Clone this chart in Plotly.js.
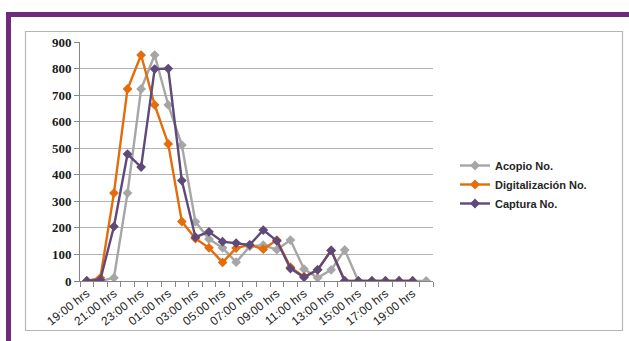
<!DOCTYPE html>
<html>
<head>
<meta charset="utf-8">
<script src="https://cdn.plot.ly/plotly-3.0.1.min.js"></script>
<style>
  html, body { margin: 0; padding: 0; background: #ffffff; }
  #chart { width: 629px; height: 341px; }
</style>
</head>
<body>
<div id="chart"></div>
<script>
// Hourly categories (19:00 hrs through 20:00 hrs of the next day)
const categories = [
  "19:00 hrs","20:00 hrs","21:00 hrs","22:00 hrs","23:00 hrs","00:00 hrs",
  "01:00 hrs","02:00 hrs","03:00 hrs","04:00 hrs","05:00 hrs","06:00 hrs",
  "07:00 hrs","08:00 hrs","09:00 hrs","10:00 hrs","11:00 hrs","12:00 hrs",
  "13:00 hrs","14:00 hrs","15:00 hrs","16:00 hrs","17:00 hrs","18:00 hrs",
  "19:00 hrs","20:00 hrs"
];

const acopio = [0, 0, 12, 331, 723, 851, 663, 512, 223, 158, 125, 71, 130,
                135, 118, 154, 45, 12, 42, 117, 0, 0, 0, 0, 0, 0];
const digitalizacion = [0, 12, 331, 723, 851, 663, 516, 224, 160, 125, 70, 124, 136,
                        120, 154, 52, 16, 42, 115, 0, 0, 0, 0, 0, 0, null];
const captura = [0, 5, 205, 478, 429, 798, 800, 378, 165, 185, 148, 143, 136,
                 192, 151, 47, 14, 42, 115, 0, 0, 0, 0, 0, 0, null];

const seriesNames = ["Acopio No.", "Digitalización No.", "Captura No."];
const seriesColors = ["#A6A6A6", "#E46C0A", "#5F497A"];
const yTickVals = [0, 100, 200, 300, 400, 500, 600, 700, 800, 900];

// Category positions and every-other labels
const xIdx = categories.map((c, i) => i);
const labelIdx = xIdx.filter(i => i % 2 === 0);
const labelText = labelIdx.map(i => categories[i]);

const allSeries = [acopio, digitalizacion, captura];
const traces = allSeries.map((vals, k) => ({
  type: "scatter",
  mode: "lines+markers",
  name: seriesNames[k],
  x: xIdx,
  y: vals,
  customdata: categories,
  line: { color: seriesColors[k], width: 2.4 },
  marker: { symbol: "diamond", size: 7.5, color: seriesColors[k] },
  connectgaps: false
}));

// Pixel -> paper helpers (plot area: x 80..433, y 42..281)
const L = 80, R = 433, T = 42, B = 281;
const fx = px => (px - L) / (R - L);
const fy = py => (B - py) / (B - T);

const shapes = [
  // outer purple frame: top bar and left bar
  { type: "rect", xref: "paper", yref: "paper", layer: "below",
    x0: fx(6), x1: fx(640), y0: fy(12), y1: fy(17),
    fillcolor: "#702A7B", line: { width: 0 } },
  { type: "rect", xref: "paper", yref: "paper", layer: "below",
    x0: fx(6), x1: fx(11), y0: fy(12), y1: fy(350),
    fillcolor: "#702A7B", line: { width: 0 } },
  // chart-area border
  { type: "rect", xref: "paper", yref: "paper", layer: "below",
    x0: fx(25.5), x1: fx(622.5), y0: fy(31.5), y1: fy(330.5),
    fillcolor: "rgba(0,0,0,0)", line: { color: "#B5B5B5", width: 1.2 } }
];

const layout = {
  width: 629,
  height: 341,
  margin: { l: L, r: 629 - R, t: T, b: 341 - B, pad: 0 },
  paper_bgcolor: "#ffffff",
  plot_bgcolor: "#ffffff",
  showlegend: true,
  legend: {
    x: fx(455), xanchor: "left",
    y: fy(151), yanchor: "top",
    font: { family: "Liberation Sans, Arial, sans-serif", size: 11, color: "#262626", weight: "bold" },
    bgcolor: "rgba(0,0,0,0)",
    itemwidth: 30,
    tracegroupgap: 0
  },
  xaxis: {
    type: "linear",
    range: [-0.5, categories.length - 0.5],
    tickmode: "array",
    tickvals: labelIdx,
    ticktext: labelText,
    tickangle: -38,
    ticks: "",
    showgrid: false,
    zeroline: false,
    showline: true,
    linecolor: "#868686",
    linewidth: 1,
    tickfont: { family: "Liberation Sans, Arial, sans-serif", size: 12, color: "#262626" },
    minor: {
      tickmode: "linear",
      tick0: -0.5,
      dtick: 1,
      ticks: "outside",
      ticklen: 5,
      tickcolor: "#868686",
      tickwidth: 1,
      showgrid: false
    },
    fixedrange: true
  },
  yaxis: {
    range: [0, 900],
    tickmode: "array",
    tickvals: yTickVals,
    ticks: "outside",
    ticklen: 5,
    tickcolor: "#868686",
    showgrid: true,
    gridcolor: "#B3B3B3",
    gridwidth: 1,
    zeroline: false,
    showline: true,
    linecolor: "#868686",
    linewidth: 1,
    tickfont: { family: "Liberation Serif, Times New Roman, serif", size: 13, color: "#1a1a1a", weight: "bold" },
    fixedrange: true
  },
  shapes: shapes
};

Plotly.newPlot("chart", traces, layout, { displayModeBar: false, staticPlot: true });
</script>
</body>
</html>
